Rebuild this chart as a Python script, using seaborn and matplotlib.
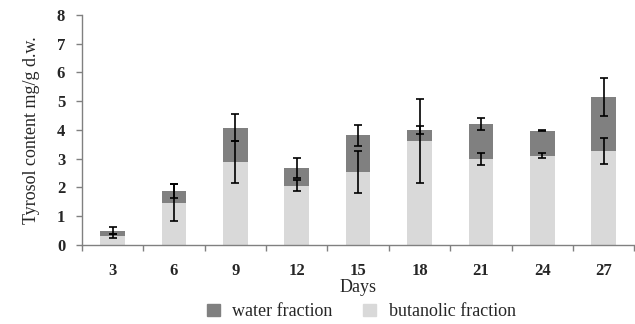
import matplotlib
matplotlib.use("Agg")
import matplotlib.pyplot as plt
import seaborn as sns
import pandas as pd
import numpy as np
from matplotlib.patches import Patch

days = ["3", "6", "9", "12", "15", "18", "21", "24", "27"]
butanolic = [0.31, 1.47, 2.89, 2.06, 2.54, 3.63, 2.99, 3.11, 3.27]
total = [0.50, 1.88, 4.08, 2.68, 3.81, 3.99, 4.21, 3.97, 5.14]
butanolic_err = [0.07, 0.65, 0.72, 0.20, 0.73, 1.46, 0.21, 0.09, 0.46]
total_err = [0.11, 0.24, 0.48, 0.35, 0.37, 0.13, 0.22, 0.02, 0.65]

sns.set_theme(style="white")
plt.rcParams['font.family'] = ['Liberation Serif', 'DejaVu Serif']

df = pd.DataFrame({"Days": days, "total": total, "butanolic": butanolic})

fig = plt.figure(figsize=(6.35, 3.24), dpi=100)
ax = fig.add_axes([0.129, 0.244, 0.870, 0.710])

dark = "#808080"
light = "#d9d9d9"
sns.barplot(data=df, x="Days", y="total", color=dark, saturation=1, width=0.4, ax=ax, edgecolor="none")
sns.barplot(data=df, x="Days", y="butanolic", color=light, saturation=1, width=0.4, ax=ax, edgecolor="none")

xs = np.arange(len(days))
ax.errorbar(xs, total, yerr=total_err, fmt="none", ecolor="black", elinewidth=1.2, capsize=3, capthick=1.2, zorder=5)
ax.errorbar(xs, butanolic, yerr=butanolic_err, fmt="none", ecolor="black", elinewidth=1.2, capsize=3, capthick=1.2, zorder=5)

ax.set_ylim(0, 8)
ax.set_xlim(-0.5, len(days) - 0.5)
ax.set_yticks(range(0, 9))
ax.set_yticklabels([str(i) for i in range(0, 9)], fontweight="bold", fontsize=12)
ax.set_xticks(xs)
ax.set_xticklabels(days, fontweight="bold", fontsize=12)
ax.tick_params(axis="x", which="major", length=0, pad=13)
ax.set_xticks(np.arange(-0.5, len(days), 1), minor=True)
ax.tick_params(axis="x", which="minor", length=4, color="#808080", width=1, direction="out", bottom=True)
ax.tick_params(axis="y", length=4, color="#808080", width=1, direction="out", left=True, pad=8)

for s in ["top", "right"]:
    ax.spines[s].set_visible(False)
for s in ["left", "bottom"]:
    ax.spines[s].set_color("#808080")
    ax.spines[s].set_linewidth(1)

ax.set_xlabel("Days", fontsize=13, labelpad=0)
ax.set_ylabel("Tyrosol content mg/g d.w.", fontsize=13, labelpad=12)

handles = [Patch(color=dark, label="water fraction"), Patch(color=light, label="butanolic fraction")]
fig.legend(handles=handles, loc="center", bbox_to_anchor=(0.569, 0.038), ncol=2, frameon=False,
           fontsize=13, handlelength=0.7, handleheight=0.7, columnspacing=1.7, handletextpad=0.7)

fig.savefig("out.png", dpi=100)
